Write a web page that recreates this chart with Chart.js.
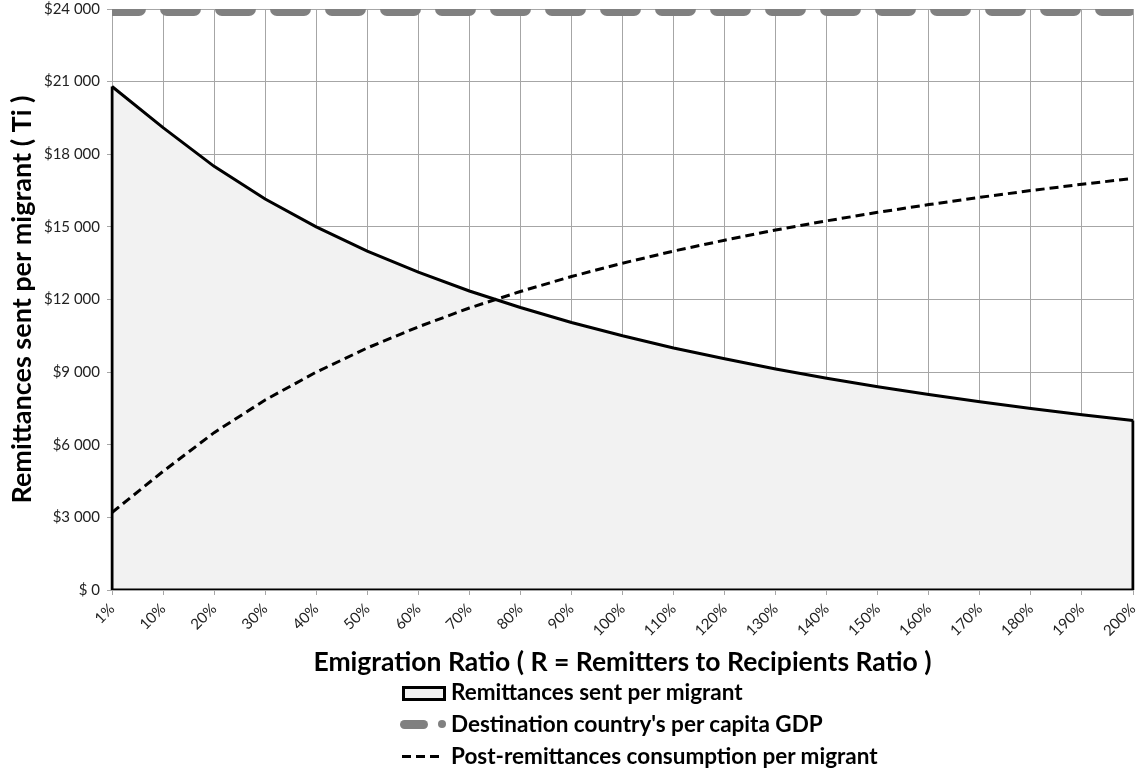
<!DOCTYPE html>
<html lang="en">
<head>
  <meta charset="UTF-8" />
  <title>Remittances vs Emigration Ratio</title>
  <script src="https://cdn.jsdelivr.net/npm/chart.js"></script>
  <style>
    body {
      margin: 0;
      background: #fff;
      font-family: Lato, "Open Sans", sans-serif;
    }
    .wrap {
      position: relative;
      width: 1140px;
      height: 773px;
    }
    .legend {
      position: absolute;
      left: 400px;
      top: 676px;
    }
    .item {
      position: relative;
      height: 32px;
      font-weight: bold;
      font-size: 22.5px;
      line-height: 32px;
      color: #000;
      padding-left: 51px;
      white-space: nowrap;
    }
    .mk-area {
      position: absolute;
      left: 2px; top: 10px;
      width: 38px; height: 9px;
      background: #f2f2f2;
      border: 3px solid #000;
    }
    .mk-gdp {
      position: absolute;
      left: 0; top: 12px;
      width: 28px; height: 9px;
      border-radius: 5px;
      background: #808080;
    }
    .mk-dot {
      position: absolute;
      left: 38px; top: 12px;
      width: 8px; height: 8px;
      border-radius: 50%;
      background: #808080;
    }
    .mk-dash {
      position: absolute;
      left: 2px; top: 15px;
      width: 40px; height: 3px;
      background: repeating-linear-gradient(90deg, #000 0 9px, transparent 9px 14px);
    }
  </style>
</head>
<body>
<div class="wrap">
  <canvas id="grafica" width="1140" height="773"></canvas>
  <div class="legend">
    <div class="item"><span class="mk-area"></span>Remittances sent per migrant</div>
    <div class="item"><span class="mk-gdp"></span><span class="mk-dot"></span>Destination country's per capita GDP</div>
    <div class="item"><span class="mk-dash"></span>Post-remittances consumption per migrant</div>
  </div>
</div>
<script>
  // Datos
  const ratios = ['1%', '10%', '20%', '30%', '40%', '50%', '60%', '70%', '80%', '90%', '100%',
                  '110%', '120%', '130%', '140%', '150%', '160%', '170%', '180%', '190%', '200%'];
  const remesas = [20800, 19100, 17500, 16150, 15000, 14000, 13130, 12350, 11670, 11050, 10500,
                   10000, 9550, 9130, 8750, 8400, 8080, 7780, 7500, 7240, 7000];
  const pibDestino = [24000, 24000, 24000, 24000, 24000, 24000, 24000, 24000, 24000, 24000, 24000,
                      24000, 24000, 24000, 24000, 24000, 24000, 24000, 24000, 24000, 24000];
  const consumo = [3200, 4900, 6500, 7850, 9000, 10000, 10870, 11650, 12330, 12950, 13500,
                   14000, 14450, 14870, 15250, 15600, 15920, 16220, 16500, 16760, 17000];
  const yTicks = [0, 3000, 6000, 9000, 12000, 15000, 18000, 21000, 24000];

  // contorno del área (bordes izquierdo, inferior y derecho)
  const ultimo = ratios.length - 1;
  const contorno = [
    { x: ratios[0], y: remesas[0] },
    { x: ratios[0], y: 0 },
    { x: ratios[ultimo], y: 0 },
    { x: ratios[ultimo], y: remesas[ultimo] }
  ];

  function dinero(v) {
    if (v === 0) return '$ 0';
    return '$' + String(v).replace(/\B(?=(\d{3})+(?!\d))/g, ' ');
  }

  const FUENTE = 'Lato, "Open Sans", sans-serif';
  const gris = '#a6a6a6';

  const ctx = document.getElementById('grafica').getContext('2d');
  new Chart(ctx, {
    type: 'line',
    data: {
      labels: ratios,
      datasets: [
        {
          label: 'Post-remittances consumption per migrant',
          data: consumo,
          borderColor: '#000',
          borderWidth: 3,
          borderDash: [9, 5],
          pointRadius: 0,
          fill: false,
          order: 0
        },
        {
          label: "Destination country's per capita GDP",
          data: pibDestino,
          borderColor: '#808080',
          borderWidth: 14,
          borderDash: [27, 28],
          borderCapStyle: 'round',
          pointRadius: 0,
          fill: false,
          clip: 0,
          order: 1
        },
        {
          label: 'contorno',
          data: contorno,
          borderColor: '#000',
          borderWidth: 3,
          pointRadius: 0,
          fill: false,
          order: 2
        },
        {
          label: 'Remittances sent per migrant',
          data: remesas,
          borderColor: '#000',
          borderWidth: 3,
          backgroundColor: '#f2f2f2',
          pointRadius: 0,
          fill: 'origin',
          order: 3
        }
      ]
    },
    options: {
      responsive: false,
      animation: false,
      layout: { padding: { left: 2, right: 0, top: 0, bottom: 91 } },
      plugins: {
        legend: { display: false },
        tooltip: { enabled: false }
      },
      scales: {
        x: {
          afterFit: s => { s.height = 92; s.paddingRight = 7; s.paddingLeft = 0; },
          grid: { color: gris, tickLength: 5 },
          border: { color: gris },
          ticks: {
            autoSkip: false,
            minRotation: 45,
            maxRotation: 45,
            padding: 5,
            color: '#222',
            font: { family: FUENTE, size: 15 }
          },
          title: {
            display: true,
            text: 'Emigration Ratio ( R = Remitters to Recipients Ratio )',
            color: '#000',
            font: { family: FUENTE, size: 26.5, weight: 'bold' }
          }
        },
        y: {
          min: 0,
          max: 24000,
          afterBuildTicks: s => { s.ticks = yTicks.map(v => ({ value: v })); },
          afterFit: s => { s.width = 110; s.paddingTop = 9; s.paddingBottom = 0; },
          grid: { color: gris, tickLength: 5 },
          border: { color: gris },
          ticks: {
            padding: 7,
            color: '#222',
            font: { family: FUENTE, size: 15 },
            callback: v => dinero(v)
          },
          title: {
            display: true,
            text: 'Remittances sent per migrant ( Ti )',
            color: '#000',
            font: { family: FUENTE, size: 27, weight: 'bold' }
          }
        }
      }
    }
  });
</script>
</body>
</html>
